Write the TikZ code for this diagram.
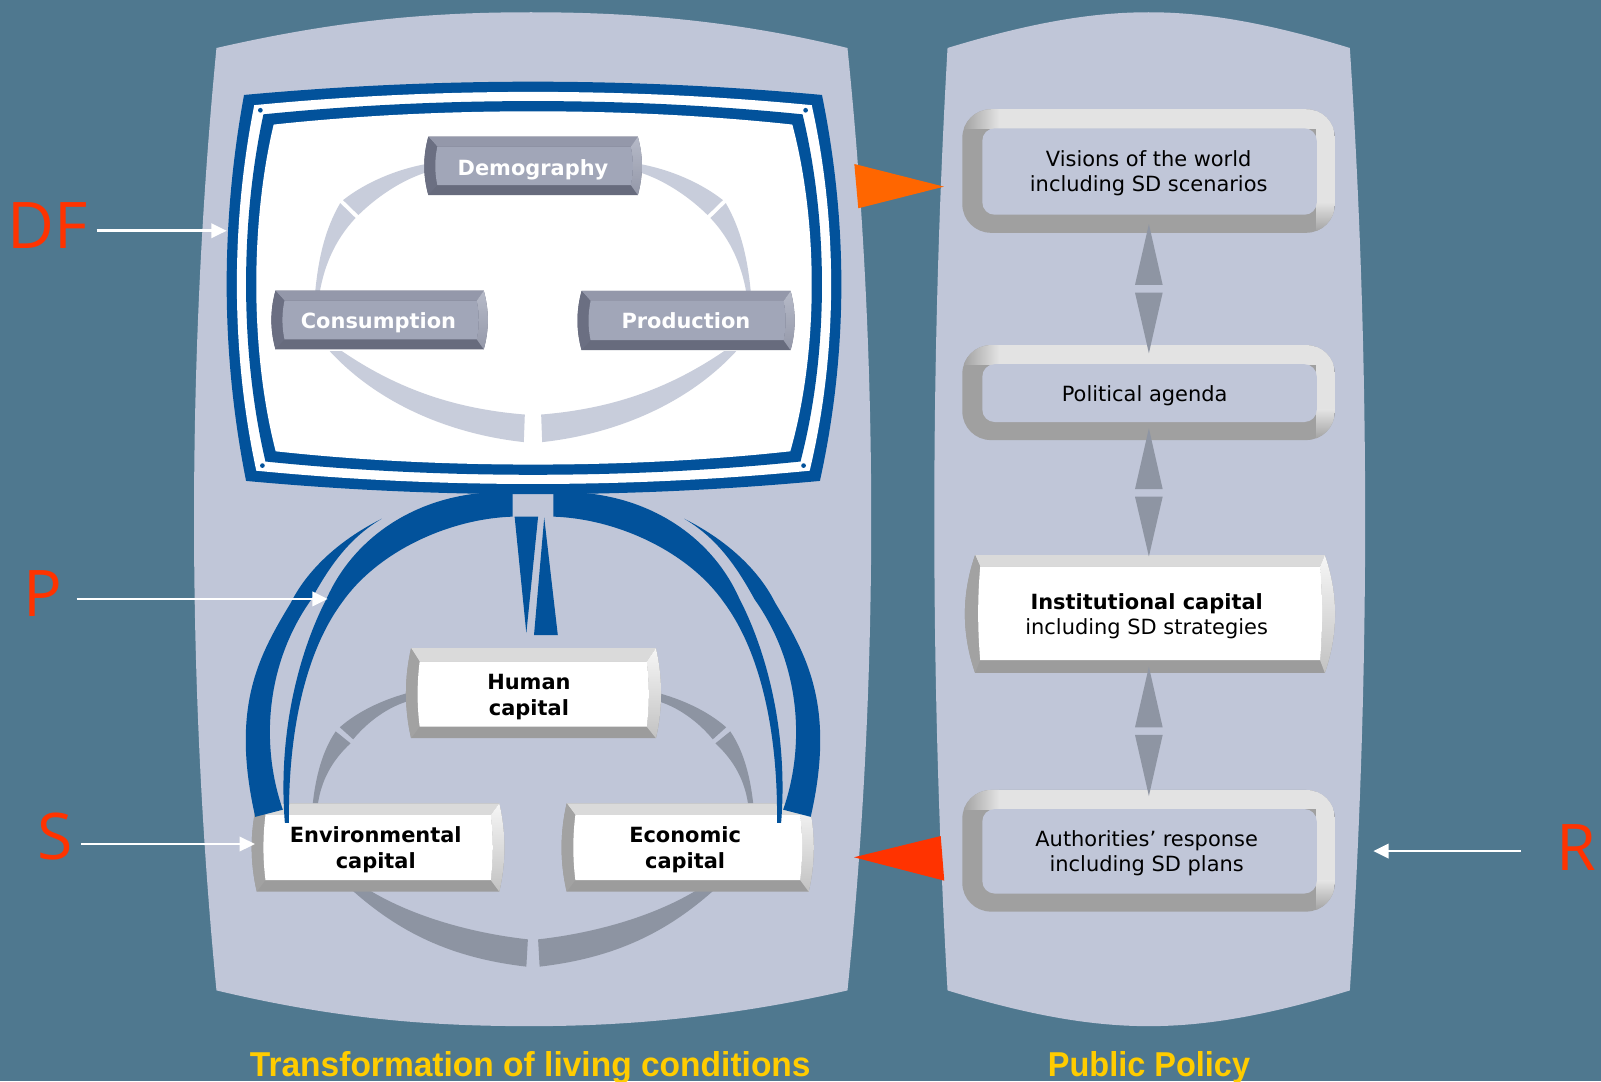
\documentclass[tikz,border=0pt]{standalone}
\usepackage{fontspec}
\usepackage{graphicx}
\setmainfont{DejaVu Sans}
\newfontfamily\labfont{Open Sans}
\newfontfamily\titfont{Liberation Sans}
\usetikzlibrary{arrows.meta}
\definecolor{bgc}{HTML}{4F788F}
\definecolor{panel}{HTML}{C0C6D8}
\definecolor{blu}{HTML}{02529B}
\definecolor{lconn}{HTML}{C8CDDB}
\definecolor{dconn}{HTML}{8D94A2}
\definecolor{garr}{HTML}{8E95A3}
\definecolor{oran}{HTML}{FF6600}
\definecolor{ored}{HTML}{FF3300}
\definecolor{lred}{HTML}{FF3300}
\definecolor{yel}{HTML}{FFCC00}
\definecolor{frG}{HTML}{A0A0A0}
\definecolor{frL}{HTML}{E3E3E3}
\definecolor{capT}{HTML}{DADADA}
\definecolor{capL}{HTML}{A2A2A2}
\definecolor{capB}{HTML}{9C9C9C}
\definecolor{capRt}{HTML}{F6F6F6}
\definecolor{capRb}{HTML}{C2C2C2}
\definecolor{capF}{HTML}{FFFFFF}
\definecolor{demT}{HTML}{9498AA}
\definecolor{demL}{HTML}{6B6F82}
\definecolor{demB}{HTML}{676B7D}
\definecolor{demRt}{HTML}{B6BAC8}
\definecolor{demRb}{HTML}{9498A9}
\definecolor{demF}{HTML}{A1A6B8}

\newcommand\monpath[1]{({239+#1},{93+#1}) .. controls (428,{75.67+#1}) and (616,{75.67+#1}) .. ({805-#1},{93+#1}) .. controls ({830.67-#1},219) and ({830.67-#1},345) .. ({803-#1},{471-#1}) .. controls (616,{488.33-#1}) and (428,{488.33-#1}) .. ({241+#1},{471-#1}) .. controls ({216+#1},345) and ({216+#1},219) .. cycle}

\def\bul{4}
\newcommand\bevbox[9]{%
\pgfmathsetmacro\bXa{#1+\bul}\pgfmathsetmacro\bXb{#3-\bul}%
\pgfmathsetmacro\bCl{#1-\bul/3}\pgfmathsetmacro\bCr{#3+\bul/3}%
\pgfmathsetmacro\bYa{#2+(#4-#2)/3}\pgfmathsetmacro\bYb{#4-(#4-#2)/3}%
\pgfmathsetmacro\bFa{#1+#5}\pgfmathsetmacro\bFb{#3-#7}%
\pgfmathsetmacro\bFt{#2+#6}\pgfmathsetmacro\bFm{#4-#8}%
\pgfmathsetmacro\bFcl{\bFa-2.67}\pgfmathsetmacro\bFcr{\bFb+2.67}%
\pgfmathsetmacro\bFya{\bFt+(\bFm-\bFt)/3}\pgfmathsetmacro\bFyb{\bFm-(\bFm-\bFt)/3}%
\fill[#9B] (\bXa,#2) -- (\bXb,#2) .. controls (\bCr,\bYa) and (\bCr,\bYb) .. (\bXb,#4) -- (\bXa,#4) .. controls (\bCl,\bYb) and (\bCl,\bYa) .. cycle;
\fill[#9T] (\bXa,#2) -- (\bXb,#2) -- (\bFb,\bFt) -- (\bFa,\bFt) -- cycle;
\fill[#9L] (\bXa,#2) .. controls (\bCl,\bYa) and (\bCl,\bYb) .. (\bXa,#4) -- (\bFa,\bFm) .. controls (\bFcl,\bFyb) and (\bFcl,\bFya) .. (\bFa,\bFt) -- cycle;
\shade[top color=#9Rt, bottom color=#9Rb] (\bXb,#2) .. controls (\bCr,\bYa) and (\bCr,\bYb) .. (\bXb,#4) -- (\bFb,\bFm) .. controls (\bFcr,\bFyb) and (\bFcr,\bFya) .. (\bFb,\bFt) -- cycle;
\fill[#9F] (\bFa,\bFt) .. controls (\bFcl,\bFya) and (\bFcl,\bFyb) .. (\bFa,\bFm) -- (\bFb,\bFm) .. controls (\bFcr,\bFyb) and (\bFcr,\bFya) .. (\bFb,\bFt) -- cycle;
}

\newcommand\frbox[4]{%
\fill[frG, rounded corners=28pt] (#1,#2) rectangle (#3,#4);
\begin{scope}
\clip[rounded corners=28pt] (#1,#2) rectangle (#3,#4);
\fill[frL] ({#1+36},#2) rectangle (#3,{#2+19});
\fill[frL] ({#3-18},#2) rectangle (#3,{#4-30});
\shade[left color=frG, right color=frL] (#1,#2) rectangle ({#1+36},{#2+19});
\shade[top color=frL, bottom color=frG] ({#3-18},{#4-30}) rectangle (#3,#4);
\end{scope}
\fill[panel, rounded corners=12pt] ({#1+19.6},{#2+18.7}) rectangle ({#3-17.7},{#4-17.7});
}

\begin{document}
\begin{tikzpicture}[x=1pt,y=-1pt,
  lab/.style={font=\labfont\fontsize{63}{63}\selectfont, text=lred, inner sep=0pt, anchor=base west},
  wa/.style={draw=white, line width=2.6pt, -{Triangle[length=15pt,width=14pt]}},
  rt/.style={font=\fontsize{20.5}{24.5}\selectfont, align=center, inner sep=0pt, anchor=base, text=black},
  ct/.style={font=\bfseries\fontsize{20.5}{25.3}\selectfont, align=center, inner sep=0pt, anchor=base, text=black},
  dt/.style={font=\bfseries\fontsize{20.5}{24}\selectfont, inner sep=0pt, anchor=base, text=white},
  tt/.style={inner sep=0pt, anchor=base, text=yel},
]
\fill[bgc] (0,0) rectangle (1568,1059);
\useasboundingbox (0,0) rectangle (1568,1059);

% panels
\fill[panel] (212,47) .. controls (330,20) and (420,12) .. (520,12) .. controls (620,12) and (720,20) .. (830,47) .. controls (861,350) and (861,667) .. (830,970) .. controls (720,995) and (620,1005) .. (520,1005) .. controls (420,1005) and (330,998) .. (212,970) .. controls (182.7,667) and (182.7,350) .. cycle;
\fill[panel] (928,47) .. controls (1010,22) and (1070,12) .. (1125,12) .. controls (1180,12) and (1240,22) .. (1322,47) .. controls (1342,350) and (1342,667) .. (1322,970) .. controls (1240,995) and (1180,1005) .. (1125,1005) .. controls (1070,1005) and (1010,995) .. (928,970) .. controls (910.7,667) and (910.7,350) .. cycle;

% monitor
\fill[blu] \monpath{0};
\fill[white] \monpath{10};
\fill[blu] \monpath{19};
\fill[white] \monpath{29};
\foreach \p in {(255,108),(789,108),(787,456),(257,456)} \fill[blu] \p circle (2.3pt);

% light connectors inside monitor (left + mirrored)
\foreach \m in {1,-1}{
\begin{scope}[xshift={(1-\m)*522pt}, xscale=\m]
\fill[lconn] (428,159) .. controls (395,163) and (360,177) .. (336,196) -- (351,210.6) .. controls (372,190) and (400,172) .. (428,166) -- cycle;
\fill[lconn] (333.2,198.9) -- (348.2,213.5) .. controls (328,235) and (316,262) .. (312,294) -- (308,294) .. controls (311,255) and (318,225) .. cycle;
\fill[lconn] (323,344) .. controls (370,395) and (440,425) .. (513,433) -- (514,406) .. controls (440,400) and (385,378) .. (335,344) -- cycle;
\end{scope}}

% dark bevel boxes in monitor
\def\bul{4}
\bevbox{415.5}{133.9}{628.7}{191}{12.8}{9.8}{10.9}{9.8}{dem}
\bevbox{265.8}{284.7}{477.8}{342.1}{12.8}{9.8}{10.9}{9.8}{dem}
\bevbox{565.6}{285}{778.3}{343}{12.8}{9.8}{10.9}{9.8}{dem}
\node[dt] (dem) at (522,171.4) {Demography};
\node[dt] (cons) at (370.7,321.6) {Consumption};
\node[dt] (prod) at (671.8,321.9) {Production};

% dark connectors between capitals
\foreach \m in {1,-1}{
\begin{scope}[xshift={(1-\m)*522pt}, xscale=\m]
\fill[dconn] (402,678) .. controls (375,685) and (350,697) .. (332.8,712.3) -- (345.9,724.1) .. controls (360,707) and (380,692) .. (402,686) -- cycle;
\fill[dconn] (328.8,716.3) -- (343.3,728) .. controls (325,745) and (314,765) .. (311,790) -- (306,790) .. controls (309,760) and (316,735) .. cycle;
\fill[dconn] (345,872) .. controls (390,912) and (440,938) .. (515.5,946.7) -- (517,920) .. controls (455,913) and (400,895) .. (362,872) -- cycle;
\end{scope}}

% capital boxes
\def\bul{5}
\bevbox{397.6}{634.8}{647.4}{723}{13.4}{13.2}{14}{11.3}{cap}
\bevbox{246.5}{786.8}{494}{873.3}{13.5}{11.4}{13.4}{11.4}{cap}
\bevbox{550}{786.8}{797}{873.3}{13.5}{11.4}{13.4}{11.4}{cap}
\node[ct] (hum) at (518,700.3) {Human\\capital};
\node[ct] (env) at (368,850.4) {Environmental\\capital};
\node[ct] (eco) at (671,850.4) {Economic\\capital};

% blue arcs (left + mirrored)
\foreach \m in {1,-1}{
\begin{scope}[xshift={(1-\m)*522pt}, xscale=\m]
\fill[blu] (374,508) .. controls (330,530) and (300,560) .. (285,590) .. controls (255,640) and (225,690) .. (250,800) -- (277,793) .. controls (255,730) and (260,650) .. (305,587) .. controls (325,550) and (345,525) .. cycle;
\fill[blu] (470,483) -- (502,484) -- (502,506) .. controls (440,508) and (370,540) .. (335,590) .. controls (298,640) and (282,720) .. (283,806) -- (279,806) .. controls (272,720) and (292,640) .. (320,586) .. controls (345,530) and (400,490) .. cycle;
\end{scope}}
\fill[blu] (504,506) -- (527,506) -- (515.5,620) -- cycle;
\fill[blu] (533,507) -- (546.3,622) -- (523,622) -- cycle;

% right column boxes
\frbox{942.5}{107}{1307.3}{228}
\frbox{942.5}{338}{1307.3}{431}
\frbox{942.5}{773.7}{1307.3}{892.8}
\def\bul{10}
\bevbox{945}{543.6}{1307.5}{659}{15}{11.4}{14.7}{12.6}{cap}
\node[rt] (vis) at (1125,187.7) {Visions of the world\\including SD scenarios};
\node[rt] (pol) at (1121,393.4) {Political agenda};
\node[rt] (inst) at (1123,621.9) {{\bfseries Institutional capital}\\including SD strategies};
\node[rt] (auth) at (1123,853.7) {Authorities’ response\\including SD plans};

% grey double arrows
\foreach \a/\b/\c/\d in {219.4/279/286.6/346, 419.5/479/486.5/545, 653/712.3/719.8/779.6}{
\fill[garr] (1125.2,\a) -- (1138.7,\b) -- (1111.6,\b) -- cycle;
\fill[garr] (1111.6,\c) -- (1138.7,\c) -- (1125.2,\d) -- cycle;
}

% orange arrows
\fill[oran] (836.7,160.6) -- (924.5,182.8) -- (840.6,204) -- cycle;
\fill[ored] (836.4,839.6) -- (921.3,818.8) -- (924.8,862.5) -- cycle;

% labels and white arrows
\node[lab] (df) at (7,243) {DF};
\node[lab] (pl) at (23,604) {P};
\node[lab] (sl) at (37,842) {S};
\node[lab] (rl) at (1524,852.7) {R};
\coordinate (dfa) at (94.7,226); \coordinate (dfb) at (222,226);
\coordinate (pa) at (75,586.6); \coordinate (pb) at (321,586.6);
\coordinate (sa) at (79.3,826.6); \coordinate (sb) at (249.7,826.6);
\coordinate (ra) at (1489.6,833.5); \coordinate (rb) at (1345,833.5);
\draw[wa] (dfa) -- (dfb);
\draw[wa] (pa) -- (pb);
\draw[wa] (sa) -- (sb);
\draw[wa] (ra) -- (rb);

% titles
\node[tt] (t1) at (519.3,1054.5) {\resizebox{549pt}{24.5pt}{\titfont\bfseries Transformation of living conditions}};
\node[tt] (t2) at (1125.3,1054.5) {\resizebox{198pt}{24.5pt}{\titfont\bfseries Public Policy}};
\end{tikzpicture}
\end{document}
